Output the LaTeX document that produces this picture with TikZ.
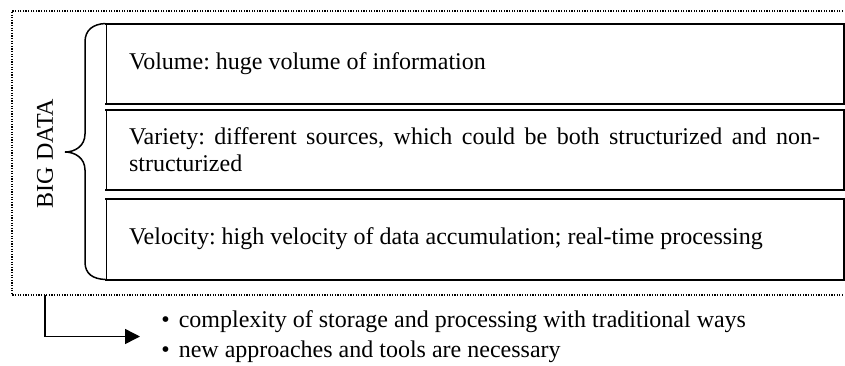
\documentclass[tikz,border=0pt]{standalone}
\usepackage{fontspec}
\setmainfont{Liberation Serif}
\usetikzlibrary{arrows.meta}
\frenchspacing
\begin{document}
\begin{tikzpicture}[x=0.5pt,y=-0.5pt,
  txt/.style={font=\fontsize{12}{13.7}\selectfont\frenchspacing},
  databox/.style={txt, draw, line width=0.5pt, minimum width=368.5pt, minimum height=39.5pt,
    inner xsep=10.5pt, inner ysep=0pt, text width=345.5pt, align=justify},
  heavyedge/.style={line width=1pt, line cap=rect},
  frameline/.style={line width=0.7pt, dash pattern=on 0.6pt off 0.7pt},
  bracestyle/.style={line width=0.75pt},
  flow/.style={line width=0.75pt, -{Triangle[length=7.5pt,width=7.5pt]}},
  listnode/.style={font=\fontsize{12}{15}\selectfont\frenchspacing, align=left, inner xsep=10.5pt, inner ysep=0pt},
]
\useasboundingbox (0,0) rectangle (845,365);

% dotted frame
\coordinate (fne) at (843,11);
\coordinate (fnw) at (12,11);
\coordinate (fsw) at (12,295);
\coordinate (fse) at (843,295);
\draw[frameline] (fne) -- (fnw) -- (fsw) -- (fse);

% boxes
\node[databox] (vol) at (474.5,63.5) {Volume: huge volume of information};
\node[databox] (var) at (474.5,149.5) {Variety: different sources, which could be both structurized and non-\linebreak structurized};
\node[databox, minimum height=40pt] (vel) at (474.5,239) {Velocity: high velocity of data accumulation; real-time processing};
\foreach \b in {vol,var,vel}{
  \draw[heavyedge] (\b.north west) -- (\b.north east) -- (\b.south east) -- (\b.south west);
}

% brace
\coordinate (tip) at (65,152);
\draw[bracestyle] (vol.north west) .. controls (93,24) and (85,30) .. (85,42)
  -- (85,134) .. controls (85,146) and (75,152) .. (tip)
  .. controls (75,152) and (85,158) .. (85,170)
  -- (85,262) .. controls (85,274) and (93,279) .. (vel.south west);

% label
\node[txt, rotate=90] (big) at (45,153.5) {BIG DATA};

% consequences
\coordinate (arrstart) at (45,295);
\node[listnode, anchor=west] (list) at (140,336.5)
  {\textbullet\hspace{4.5pt}complexity of storage and processing with traditional ways\\
   \textbullet\hspace{4.5pt}new approaches and tools are necessary};
\draw[flow] (arrstart) |- (list.west);
\end{tikzpicture}
\end{document}
